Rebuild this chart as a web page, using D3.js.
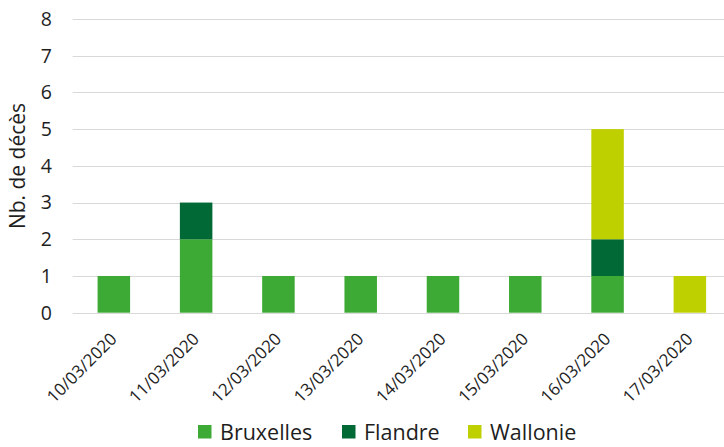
<!DOCTYPE html>
<html><head><meta charset="utf-8">
<script src="https://cdn.jsdelivr.net/npm/d3@7/dist/d3.min.js"></script>
<style>body{margin:0;background:#fff}svg{display:block;font-family:"Open Sans",sans-serif}</style>
</head><body>
<svg id="c" width="724" height="447"></svg>
<script>
const categories = ["10/03/2020","11/03/2020","12/03/2020","13/03/2020","14/03/2020","15/03/2020","16/03/2020","17/03/2020"];
const seriesNames = ["Bruxelles","Flandre","Wallonie"];
const bruxelles = [1,2,1,1,1,1,1,0];
const flandre   = [0,1,0,0,0,0,1,0];
const wallonie  = [0,0,0,0,0,0,3,1];
const yTicks = [0,1,2,3,4,5,6,7,8];
const colors = ["#3daa35","#006935","#bfd000"];

const svg = d3.select("#c");
const x = d3.scaleBand().domain(categories).range([72.7, 731]).paddingInner(0.605).paddingOuter(0.3025);
const y = d3.scaleLinear().domain([0,8]).range([312.7, 19]);
const txt = "#1e1e1e";

// gridlines
svg.append("g").selectAll("line").data(yTicks).join("line")
  .attr("x1", 72.7).attr("x2", 724)
  .attr("y1", d => Math.round(y(d)) + 0.5).attr("y2", d => Math.round(y(d)) + 0.5)
  .attr("stroke", "#d9d9d9").attr("stroke-width", 1);

// y tick labels
svg.append("g").selectAll("text").data(yTicks).join("text")
  .attr("x", 52).attr("y", d => y(d)).attr("dy", "0.35em")
  .attr("text-anchor", "end").attr("font-size", 19.5).attr("fill", txt)
  .text(d => d);

// y title
svg.append("text").attr("transform", "translate(25,166) rotate(-90)")
  .attr("text-anchor", "middle").attr("font-size", 21).attr("fill", txt)
  .text("Nb. de décès");

// stacked bars
const rows = categories.map((c,i) => ({cat:c, Bruxelles:bruxelles[i], Flandre:flandre[i], Wallonie:wallonie[i]}));
const stack = d3.stack().keys(seriesNames)(rows);
svg.append("g").selectAll("g").data(stack).join("g")
  .attr("fill", (d,i) => colors[i])
  .selectAll("rect").data(d => d.filter(s => s[1] - s[0] > 0)).join("rect")
  .attr("x", d => x(d.data.cat)).attr("width", x.bandwidth())
  .attr("y", d => y(d[1])).attr("height", d => y(d[0]) - y(d[1]));

// x labels
svg.append("g").selectAll("text").data(categories).join("text")
  .attr("transform", d => `translate(${x(d) + x.bandwidth()/2 + 4},340) rotate(-45)`)
  .attr("text-anchor", "end").attr("font-size", 17).attr("fill", txt)
  .text(d => d);

// legend
const legendX = [198, 342, 468];
const lg = svg.append("g").selectAll("g").data(seriesNames).join("g")
  .attr("transform", (d,i) => `translate(${legendX[i]},425)`);
lg.append("rect").attr("width", 13.5).attr("height", 13.5).attr("fill", (d,i) => colors[i]);
lg.append("text").attr("x", 22).attr("y", 7).attr("dy", "0.36em")
  .attr("font-size", 21.5).attr("fill", txt).text(d => d);
</script>
</body></html>
